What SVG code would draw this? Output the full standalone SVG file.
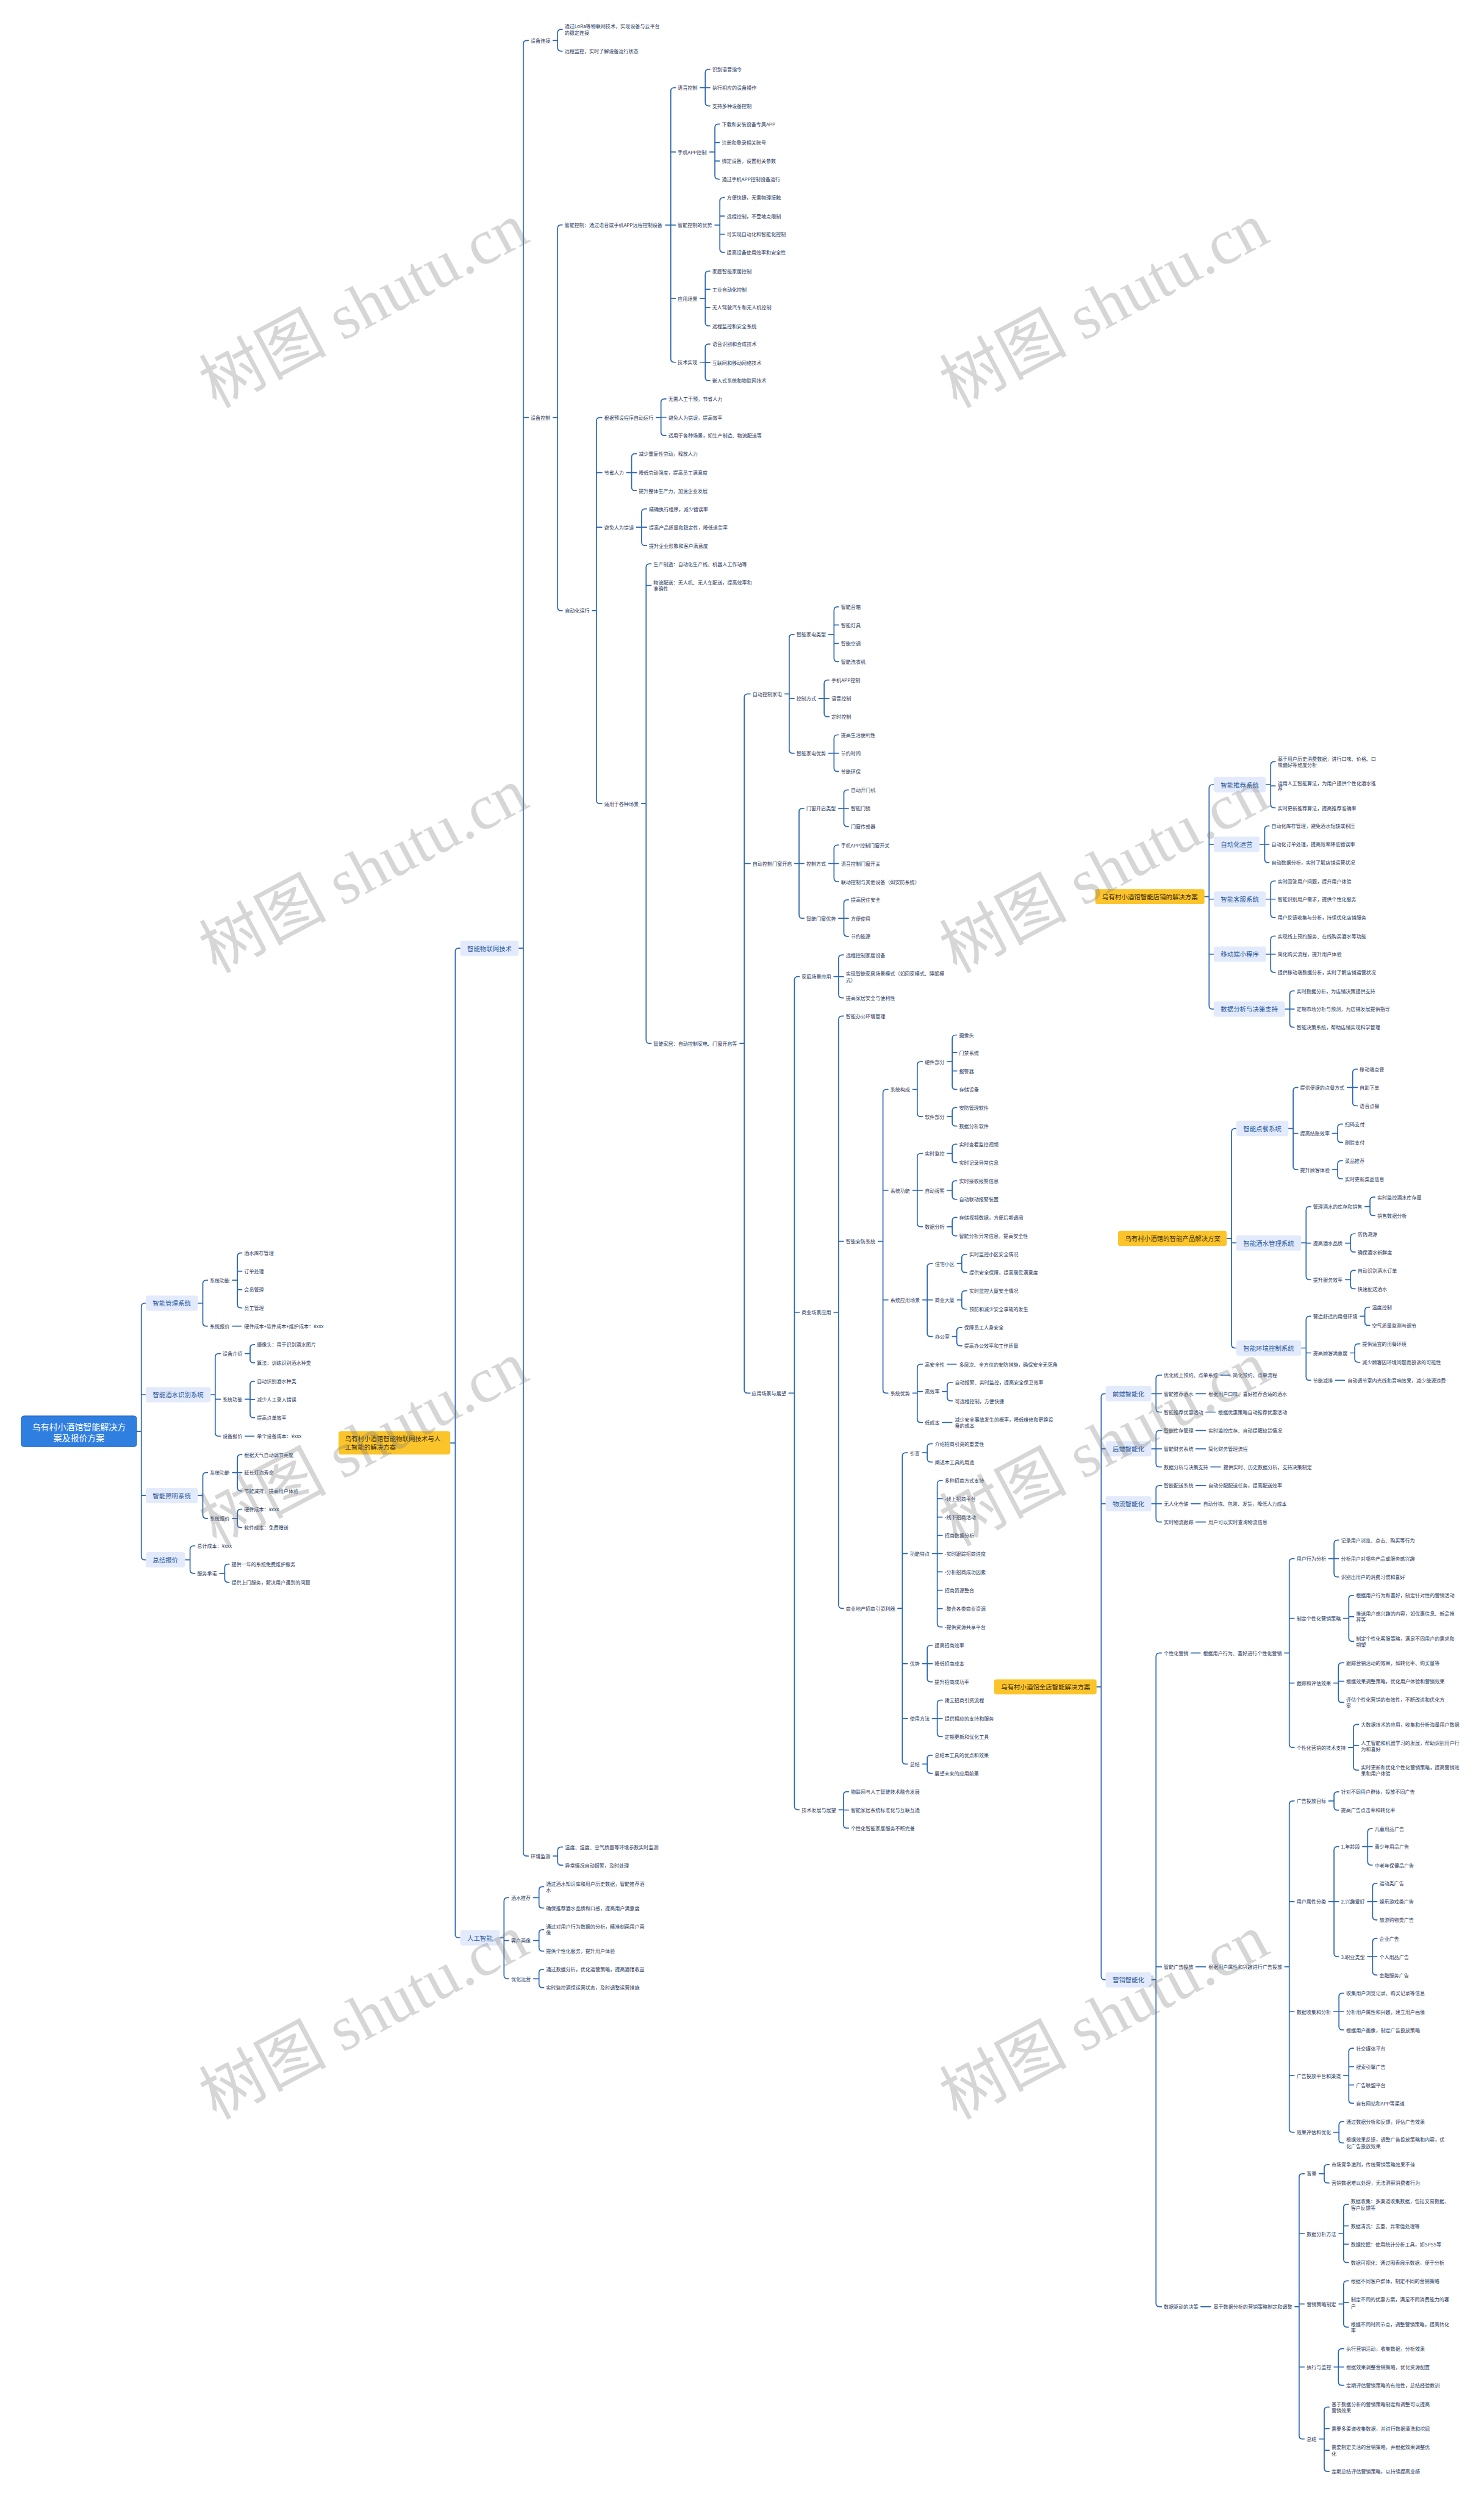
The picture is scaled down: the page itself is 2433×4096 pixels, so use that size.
<svg xmlns="http://www.w3.org/2000/svg" width="2433" height="4096" viewBox="0 0 2433 4096">
<style>
text{font-family:"Noto Sans CJK SC","Noto Sans",sans-serif;dominant-baseline:central}
.t{font-size:8.5px;fill:#26355a}
.b{font-size:11px;fill:#2a5aa0}
.bx{fill:#e2eafb}
.y{fill:#fbc42b}
.yt{font-size:11px;fill:#3a2b08}
.c path{fill:none;stroke:#2d67b1;stroke-width:1.8;stroke-linecap:round}
.w text{font-family:"Liberation Serif","Noto Sans CJK SC",serif;font-size:110px;fill:#7a7a7a;opacity:.3;dominant-baseline:auto}
</style>
<rect width="2433" height="4096" fill="#fff"/>
<g transform="scale(0.95)">
<g id="connectors" class="c">
<path d="M235.7 2469.6H243.9M251.5 2248.4H249.9Q243.9 2248.4 243.9 2254.4V2685.2Q243.9 2691.2 249.9 2691.2H251.5M243.9 2406.3H251.5M243.9 2580.2H251.5"/>
<path d="M341.5 2248.4H350M358.2 2208.8H356Q350 2208.8 350 2214.8V2282Q350 2288 356 2288H358.2"/>
<path d="M401 2208.8H409.7M417.4 2161.8H415.7Q409.7 2161.8 409.7 2167.8V2250.5Q409.7 2256.5 415.7 2256.5H417.4M409.7 2193.3H417.4M409.7 2225.1H417.4"/>
<path d="M401 2288H416.4"/>
<path d="M363.5 2406.3H371.4M380.2 2335.3H377.4Q371.4 2335.3 371.4 2341.3V2471.8Q371.4 2477.8 377.4 2477.8H380.2M371.4 2414.1H380.2"/>
<path d="M423 2335.3H431.6M439.4 2319.8H437.6Q431.6 2319.8 431.6 2325.8V2345.2Q431.6 2351.2 437.6 2351.2H439.4"/>
<path d="M423 2414.1H431.6M439.4 2383.1H437.6Q431.6 2383.1 431.6 2389.1V2439.9Q431.6 2445.9 437.6 2445.9H439.4M431.6 2414.5H439.4"/>
<path d="M423 2477.8H438.4"/>
<path d="M341.5 2580.2H350M358.2 2540.6H356Q350 2540.6 350 2546.6V2613.8Q350 2619.8 356 2619.8H358.2"/>
<path d="M401 2540.6H409.7M417.4 2509.6H415.7Q409.7 2509.6 409.7 2515.6V2566.4Q409.7 2572.4 415.7 2572.4H417.4M409.7 2540.6H417.4"/>
<path d="M401 2619.8H409.7M417.4 2603.9H415.7Q409.7 2603.9 409.7 2609.9V2629.7Q409.7 2635.7 415.7 2635.7H417.4"/>
<path d="M319.5 2691.2H328M336.3 2667.1H334Q328 2667.1 328 2673.1V2708.5Q328 2714.5 334 2714.5H336.3"/>
<path d="M379 2714.5H387.8M395.5 2698.6H393.8Q387.8 2698.6 387.8 2704.6V2724Q387.8 2730 393.8 2730H395.5"/>
<path d="M777 2489.6H785.7M794.3 1636H791.7Q785.7 1636 785.7 1642V3337.3Q785.7 3343.3 791.7 3343.3H794.3"/>
<path d="M895.3 1636H903.1M911.8 69.8H909.1Q903.1 69.8 903.1 75.8V3196.3Q903.1 3202.3 909.1 3202.3H911.8M903.1 720.5H911.8"/>
<path d="M954.5 69.8H962.3M970.4 50.6H968.3Q962.3 50.6 962.3 56.6V82.2Q962.3 88.2 968.3 88.2H970.4"/>
<path d="M954.5 720.5H962.3M970.4 388H968.3Q962.3 388 962.3 394V1047.6Q962.3 1053.6 968.3 1053.6H970.4"/>
<path d="M1148.5 388.2H1157.6M1165.6 151.3H1163.6Q1157.6 151.3 1157.6 157.3V619Q1157.6 625 1163.6 625H1165.6M1157.6 262.3H1165.6M1157.6 388.2H1165.6M1157.6 515H1165.6"/>
<path d="M1208.3 151.3H1217.1M1225.2 119.5H1223.1Q1217.1 119.5 1217.1 125.5V176.7Q1217.1 182.7 1223.1 182.7H1225.2M1217.1 151.3H1225.2"/>
<path d="M1224.9 262.3H1233.7M1241.7 214H1239.7Q1233.7 214 1233.7 220V303Q1233.7 309 1239.7 309H1241.7M1233.7 245.9H1241.7M1233.7 277.7H1241.7"/>
<path d="M1233.8 388.2H1242.3M1250.3 340.9H1248.3Q1242.3 340.9 1242.3 346.9V429.4Q1242.3 435.4 1248.3 435.4H1250.3M1242.3 372.7H1250.3M1242.3 404.1H1250.3"/>
<path d="M1208.3 515H1217.1M1225.2 467.8H1223.1Q1217.1 467.8 1217.1 473.8V556.3Q1217.1 562.3 1223.1 562.3H1225.2M1217.1 499.1H1225.2M1217.1 530.4H1225.2"/>
<path d="M1208.3 625H1217.1M1225.2 593.6H1223.1Q1217.1 593.6 1217.1 599.6V650.8Q1217.1 656.8 1223.1 656.8H1225.2M1217.1 625.5H1225.2"/>
<path d="M1022 1053.6H1029.3M1038.7 720.5H1035.3Q1029.3 720.5 1029.3 726.5V1380.5Q1029.3 1386.5 1035.3 1386.5H1038.7M1029.3 815.4H1038.7M1029.3 909.6H1038.7"/>
<path d="M1132.4 720.5H1140.7M1149.4 688.2H1146.7Q1140.7 688.2 1140.7 694.2V745.4Q1140.7 751.4 1146.7 751.4H1149.4M1140.7 720H1149.4"/>
<path d="M1081.4 815.4H1090M1098.3 782.7H1096Q1090 782.7 1090 788.7V840.5Q1090 846.5 1096 846.5H1098.3M1090 815.4H1098.3"/>
<path d="M1098.4 909.6H1107.3M1116 878.1H1113.3Q1107.3 878.1 1107.3 884.1V935.2Q1107.3 941.2 1113.3 941.2H1116M1107.3 909.6H1116"/>
<path d="M1106.9 1386.5H1115M1123.7 972.8H1121Q1115 972.8 1115 978.8V1794.2Q1115 1800.2 1121 1800.2H1123.7M1115 1010H1123.7"/>
<path d="M1276.9 1800.2H1284.4M1294.7 1197.2H1290.4Q1284.4 1197.2 1284.4 1203.2V2397.5Q1284.4 2403.5 1290.4 2403.5H1294.7M1284.4 1489.8H1294.7"/>
<path d="M1354.4 1197.2H1362M1370.5 1094.7H1368Q1362 1094.7 1362 1100.7V1293.7Q1362 1299.7 1368 1299.7H1370.5M1362 1205.2H1370.5"/>
<path d="M1430.2 1094.7H1439.3M1447.3 1047H1445.3Q1439.3 1047 1439.3 1053V1135.5Q1439.3 1141.5 1445.3 1141.5H1447.3M1439.3 1078.3H1447.3M1439.3 1110.1H1447.3"/>
<path d="M1413.2 1205.2H1422.3M1430.8 1173.3H1428.3Q1422.3 1173.3 1422.3 1179.3V1230.5Q1422.3 1236.5 1428.3 1236.5H1430.8M1422.3 1205.2H1430.8"/>
<path d="M1430.2 1299.7H1439.3M1447.3 1267.9H1445.3Q1439.3 1267.9 1439.3 1273.9V1325Q1439.3 1331 1445.3 1331H1447.3M1439.3 1299.7H1447.3"/>
<path d="M1371.4 1489.8H1379M1387.5 1394.7H1385Q1379 1394.7 1379 1400.7V1578.3Q1379 1584.3 1385 1584.3H1387.5M1379 1489.8H1387.5"/>
<path d="M1447.2 1394.7H1456.3M1464.3 1362.9H1462.3Q1456.3 1362.9 1456.3 1368.9V1420.1Q1456.3 1426.1 1462.3 1426.1H1464.3M1456.3 1394.7H1464.3"/>
<path d="M1430.2 1489.8H1439.3M1447.3 1457.9H1445.3Q1439.3 1457.9 1439.3 1463.9V1515.1Q1439.3 1521.1 1445.3 1521.1H1447.3M1439.3 1489.8H1447.3"/>
<path d="M1447.2 1584.3H1456.3M1464.3 1552.4H1462.3Q1456.3 1552.4 1456.3 1558.4V1609.6Q1456.3 1615.6 1462.3 1615.6H1464.3M1456.3 1584.3H1464.3"/>
<path d="M1361.4 2403.5H1371M1379.4 1684.8H1377Q1371 1684.8 1371 1690.8V3116.4Q1371 3122.4 1377 3122.4H1379.4M1371 2264.2H1379.4"/>
<path d="M1439.2 1684.8H1447.3M1455.8 1647.5H1453.3Q1447.3 1647.5 1447.3 1653.5V1715.6Q1447.3 1721.6 1453.3 1721.6H1455.8M1447.3 1685H1455.8"/>
<path d="M1439.2 2264.2H1447.3M1455.8 1753H1453.3Q1447.3 1753 1447.3 1759V2768.9Q1447.3 2774.9 1453.3 2774.9H1455.8M1447.3 2141.8H1455.8"/>
<path d="M1515.5 2141.8H1523.8M1532.5 1879.6H1529.8Q1523.8 1879.6 1523.8 1885.6V2397.5Q1523.8 2403.5 1529.8 2403.5H1532.5M1523.8 2053.7H1532.5M1523.8 2242.8H1532.5"/>
<path d="M1575.2 1879.6H1583M1592.1 1831.8H1589Q1583 1831.8 1583 1837.8V1920.4Q1583 1926.4 1589 1926.4H1592.1"/>
<path d="M1634.8 1831.8H1643.3M1651.3 1785.8H1649.3Q1643.3 1785.8 1643.3 1791.8V1873.6Q1643.3 1879.6 1649.3 1879.6H1651.3M1643.3 1815.9H1651.3M1643.3 1847.8H1651.3"/>
<path d="M1634.8 1926.4H1643.3M1651.3 1910.9H1649.3Q1643.3 1910.9 1643.3 1916.9V1936.8Q1643.3 1942.8 1649.3 1942.8H1651.3"/>
<path d="M1575.2 2053.7H1583M1592.1 1990H1589Q1583 1990 1583 1996V2110.4Q1583 2116.4 1589 2116.4H1592.1M1583 2053.7H1592.1"/>
<path d="M1634.8 1990H1643.3M1651.3 1974.1H1649.3Q1643.3 1974.1 1643.3 1980.1V2000Q1643.3 2006 1649.3 2006H1651.3"/>
<path d="M1634.8 2053.7H1643.3M1651.3 2037.3H1649.3Q1643.3 2037.3 1643.3 2043.3V2063.2Q1643.3 2069.2 1649.3 2069.2H1651.3"/>
<path d="M1634.8 2116.4H1643.3M1651.3 2100.5H1649.3Q1643.3 2100.5 1643.3 2106.5V2126.3Q1643.3 2132.3 1649.3 2132.3H1651.3"/>
<path d="M1592.2 2242.8H1600.2M1609.3 2180.1H1606.2Q1600.2 2180.1 1600.2 2186.1V2300Q1600.2 2306 1606.2 2306H1609.3M1600.2 2242.8H1609.3"/>
<path d="M1652 2180.1H1659.8M1668.6 2164.2H1665.8Q1659.8 2164.2 1659.8 2170.2V2189.5Q1659.8 2195.5 1665.8 2195.5H1668.6"/>
<path d="M1652 2242.8H1659.8M1668.6 2226.9H1665.8Q1659.8 2226.9 1659.8 2232.9V2252.7Q1659.8 2258.7 1665.8 2258.7H1668.6"/>
<path d="M1643.5 2306H1651.2M1660 2290.5H1657.2Q1651.2 2290.5 1651.2 2296.5V2315.9Q1651.2 2321.9 1657.2 2321.9H1660"/>
<path d="M1575.2 2403.5H1583M1592.1 2353.7H1589Q1583 2353.7 1583 2359.7V2448.2Q1583 2454.2 1589 2454.2H1592.1M1583 2401H1592.1"/>
<path d="M1634.8 2353.7H1650.3"/>
<path d="M1626.3 2401H1634.7M1643.8 2385H1640.7Q1634.7 2385 1634.7 2391V2410.9Q1634.7 2416.9 1640.7 2416.9H1643.8"/>
<path d="M1626.3 2454.2H1642.8"/>
<path d="M1549.5 2774.9H1557.2M1566.3 2506.5H1563.2Q1557.2 2506.5 1557.2 2512.5V3037.5Q1557.2 3043.5 1563.2 3043.5H1566.3M1557.2 2680.3H1566.3M1557.2 2870.4H1566.3M1557.2 2965H1566.3"/>
<path d="M1592 2506.5H1600.2M1609.3 2491H1606.2Q1600.2 2491 1600.2 2497V2516.4Q1600.2 2522.4 1606.2 2522.4H1609.3"/>
<path d="M1609 2680.3H1617.5M1626.2 2554.2H1623.5Q1617.5 2554.2 1617.5 2560.2V2801Q1617.5 2807 1623.5 2807H1626.2M1617.5 2585.7H1626.2M1617.5 2617.4H1626.2M1617.5 2649.1H1626.2M1617.5 2680.3H1626.2M1617.5 2712H1626.2M1617.5 2743.7H1626.2M1617.5 2775.3H1626.2"/>
<path d="M1592 2870.4H1600.2M1609 2838.7H1606.2Q1600.2 2838.7 1600.2 2844.7V2895.6Q1600.2 2901.6 1606.2 2901.6H1609M1600.2 2870.4H1609"/>
<path d="M1609 2965H1617.5M1626.2 2933.3H1623.5Q1617.5 2933.3 1617.5 2939.3V2990.2Q1617.5 2996.2 1623.5 2996.2H1626.2M1617.5 2965H1626.2"/>
<path d="M1592 3043.5H1600.2M1609 3028.3H1606.2Q1600.2 3028.3 1600.2 3034.3V3053.5Q1600.2 3059.5 1606.2 3059.5H1609"/>
<path d="M1447.6 3122.4H1455.6M1464.4 3091.2H1461.6Q1455.6 3091.2 1455.6 3097.2V3148.1Q1455.6 3154.1 1461.6 3154.1H1464.4M1455.6 3122.9H1464.4"/>
<path d="M954.6 3202.3H962.4M971.1 3186.7H968.4Q962.4 3186.7 962.4 3192.7V3212Q962.4 3218 968.4 3218H971.1"/>
<path d="M862.3 3343.3H869.8M878 3274H875.8Q869.8 3274 869.8 3280V3408Q869.8 3414 875.8 3414H878M869.8 3348H878"/>
<path d="M920.7 3274H930.2M938.4 3255.2H936.2Q930.2 3255.2 930.2 3261.2V3286Q930.2 3292 936.2 3292H938.4"/>
<path d="M920.7 3348H930.2M938.4 3329.3H936.2Q930.2 3329.3 930.2 3335.3V3360.3Q930.2 3366.3 936.2 3366.3H938.4"/>
<path d="M920.7 3414H930.2M938.4 3397.7H936.2Q930.2 3397.7 930.2 3403.7V3423.3Q930.2 3429.3 936.2 3429.3H938.4"/>
<path d="M2078.6 1547H2086.6M2094.6 1353.7H2092.6Q2086.6 1353.7 2086.6 1359.7V1735Q2086.6 1741 2092.6 1741H2094.6M2086.6 1456.7H2094.6M2086.6 1551.3H2094.6M2086.6 1646.3H2094.6"/>
<path d="M2184.6 1353.7H2192.9M2200.9 1314H2198.9Q2192.9 1314 2192.9 1320V1387.7Q2192.9 1393.7 2198.9 1393.7H2200.9M2192.9 1356H2200.9"/>
<path d="M2173.6 1456.7H2182.6M2190.2 1425H2188.6Q2182.6 1425 2182.6 1431V1482.3Q2182.6 1488.3 2188.6 1488.3H2190.2M2182.6 1456.7H2190.2"/>
<path d="M2184.6 1551.3H2192.9M2200.9 1520H2198.9Q2192.9 1520 2192.9 1526V1577Q2192.9 1583 2198.9 1583H2200.9M2192.9 1551.3H2200.9"/>
<path d="M2184.6 1646.3H2192.9M2200.9 1615H2198.9Q2192.9 1615 2192.9 1621V1671.7Q2192.9 1677.7 2198.9 1677.7H2200.9M2192.9 1646.3H2200.9"/>
<path d="M2217.6 1741H2225.9M2233.5 1709.7H2231.9Q2225.9 1709.7 2225.9 1715.7V1766.3Q2225.9 1772.3 2231.9 1772.3H2233.5M2225.9 1741H2233.5"/>
<path d="M2117 2136.7H2125.4M2133.5 1946.9H2131.4Q2125.4 1946.9 2125.4 1952.9V2319.8Q2125.4 2325.8 2131.4 2325.8H2133.5M2125.4 2144.4H2133.5"/>
<path d="M2223.5 1946.9H2231.7M2239.8 1876.1H2237.7Q2231.7 1876.1 2231.7 1882.1V2012.1Q2231.7 2018.1 2237.7 2018.1H2239.8M2231.7 1955.3H2239.8"/>
<path d="M2325 1876.1H2334.4M2342.4 1844.7H2340.4Q2334.4 1844.7 2334.4 1850.7V1901.9Q2334.4 1907.9 2340.4 1907.9H2342.4M2334.4 1876.1H2342.4"/>
<path d="M2299.5 1955.3H2308.5M2317 1939.3H2314.5Q2308.5 1939.3 2308.5 1945.3V1965Q2308.5 1971 2314.5 1971H2317"/>
<path d="M2299.5 2018.1H2308.5M2317 2002.4H2314.5Q2308.5 2002.4 2308.5 2008.4V2027.8Q2308.5 2033.8 2314.5 2033.8H2317"/>
<path d="M2245.5 2144.4H2254M2262.1 2081.6H2260Q2254 2081.6 2254 2087.6V2201.9Q2254 2207.9 2260 2207.9H2262.1M2254 2144.8H2262.1"/>
<path d="M2355.8 2081.6H2364.3M2372.8 2065.5H2370.3Q2364.3 2065.5 2364.3 2071.5V2091.3Q2364.3 2097.3 2370.3 2097.3H2372.8"/>
<path d="M2321.8 2144.8H2330.8M2338.9 2128.7H2336.8Q2330.8 2128.7 2330.8 2134.7V2154.1Q2330.8 2160.1 2336.8 2160.1H2338.9"/>
<path d="M2321.8 2207.9H2330.8M2338.9 2191.8H2336.8Q2330.8 2191.8 2330.8 2197.8V2217.6Q2330.8 2223.6 2336.8 2223.6H2338.9"/>
<path d="M2245.5 2325.8H2254M2262.1 2271H2260Q2254 2271 2254 2277V2375.4Q2254 2381.4 2260 2381.4H2262.1M2254 2334.2H2262.1"/>
<path d="M2347.3 2271H2355.4M2363.9 2255.4H2361.4Q2355.4 2255.4 2355.4 2261.4V2280.7Q2355.4 2286.7 2361.4 2286.7H2363.9"/>
<path d="M2330.3 2334.2H2338M2346.9 2318.5H2344Q2338 2318.5 2338 2324.5V2344.3Q2338 2350.3 2344 2350.3H2346.9"/>
<path d="M2304.8 2381.4H2320.4"/>
<path d="M1892.4 2910.3H1900.4M1908 2404.6H1906.4Q1900.4 2404.6 1900.4 2410.6V3409.7Q1900.4 3415.7 1906.4 3415.7H1908M1900.4 2499.7H1908M1900.4 2594.4H1908"/>
<path d="M1987 2404.6H1995M2004.5 2372.5H2001Q1995 2372.5 1995 2378.5V2430.3Q1995 2436.3 2001 2436.3H2004.5M1995 2404.6H2004.5M2106.5 2372.5H2122.7M2064 2404.6H2080.3M2081 2436.3H2097.2"/>
<path d="M1987 2499.7H1995M2004.5 2468H2001Q1995 2468 1995 2474V2525Q1995 2531 2001 2531H2004.5M1995 2499.7H2004.5M2064 2468H2080.3M2064 2499.7H2080.3M2089.5 2531H2106.2"/>
<path d="M1987 2594.4H1995M2004.5 2563.1H2001Q1995 2563.1 1995 2569.1V2620Q1995 2626 2001 2626H2004.5M1995 2594.4H2004.5M2064 2563.1H2080.3M2055.5 2594.4H2071.3M2064 2626H2080.3"/>
<path d="M1987 3415.7H1995M2004.5 2852H2001Q1995 2852 1995 2858V3973.8Q1995 3979.8 2001 3979.8H2004.5M1995 3393.3H2004.5M2055.5 2852H2071.3M2064 3393.3H2080.3M2072.5 3979.8H2089.2"/>
<path d="M2216.8 2852H2225M2233.5 2689H2231Q2225 2689 2225 2695V3008.9Q2225 3014.9 2231 3014.9H2233.5M2225 2792.1H2233.5M2225 2903.8H2233.5"/>
<path d="M2293.2 2689H2302.2M2310.3 2657.3H2308.2Q2302.2 2657.3 2302.2 2663.3V2714.7Q2302.2 2720.7 2308.2 2720.7H2310.3M2302.2 2689H2310.3"/>
<path d="M2318.7 2792.1H2327.7M2336.2 2752.4H2333.7Q2327.7 2752.4 2327.7 2758.4V2825.9Q2327.7 2831.9 2333.7 2831.9H2336.2M2327.7 2789.3H2336.2"/>
<path d="M2301.7 2903.8H2309.8M2319.2 2868.9H2315.8Q2309.8 2868.9 2309.8 2874.9V2931.3Q2309.8 2937.3 2315.8 2937.3H2319.2M2309.8 2900.6H2319.2"/>
<path d="M2327.2 3014.9H2335.7M2344.7 2975.2H2341.7Q2335.7 2975.2 2335.7 2981.2V3048Q2335.7 3054 2341.7 3054H2344.7M2335.7 3011.8H2344.7"/>
<path d="M2217.3 3393.3H2225M2233.5 3107.2H2231Q2225 3107.2 2225 3113.2V3672.9Q2225 3678.9 2231 3678.9H2233.5M2225 3280.9H2233.5M2225 3470.8H2233.5M2225 3581.1H2233.5"/>
<path d="M2293.2 3107.2H2302.2M2310.3 3091.5H2308.2Q2302.2 3091.5 2302.2 3097.5V3117Q2302.2 3123 2308.2 3123H2310.3"/>
<path d="M2293.2 3280.9H2302.2M2310.3 3186H2308.2Q2302.2 3186 2302.2 3192V3369.9Q2302.2 3375.9 2308.2 3375.9H2310.3M2302.2 3280.9H2310.3"/>
<path d="M2351.5 3186H2360.3M2368.3 3154.9H2366.3Q2360.3 3154.9 2360.3 3160.9V3211.9Q2360.3 3217.9 2366.3 3217.9H2368.3M2360.3 3186H2368.3"/>
<path d="M2360 3280.9H2368.8M2376.4 3249.4H2374.8Q2368.8 3249.4 2368.8 3255.4V3306.4Q2368.8 3312.4 2374.8 3312.4H2376.4M2368.8 3280.9H2376.4"/>
<path d="M2360 3375.9H2368.8M2376.4 3344.4H2374.8Q2368.8 3344.4 2368.8 3350.4V3401.4Q2368.8 3407.4 2374.8 3407.4H2376.4M2368.8 3375.9H2376.4"/>
<path d="M2301.7 3470.8H2310.7M2319.2 3438.9H2316.7Q2310.7 3438.9 2310.7 3444.9V3496.3Q2310.7 3502.3 2316.7 3502.3H2319.2M2310.7 3470.8H2319.2"/>
<path d="M2318.7 3581.1H2327.7M2336.2 3533.8H2333.7Q2327.7 3533.8 2327.7 3539.8V3622.8Q2327.7 3628.8 2333.7 3628.8H2336.2M2327.7 3565.7H2336.2M2327.7 3597.3H2336.2"/>
<path d="M2301.7 3678.9H2310.7M2319.2 3660.3H2316.7Q2310.7 3660.3 2310.7 3666.3V3691.2Q2310.7 3697.2 2316.7 3697.2H2319.2"/>
<path d="M2234.7 3979.8H2242M2250.9 3750.5H2248Q2242 3750.5 2242 3756.5V4202Q2242 4208 2248 4208H2250.9M2242 3853.7H2250.9M2242 3975.1H2250.9M2242 4083.8H2250.9"/>
<path d="M2276.6 3750.5H2285.3M2293.8 3734.7H2291.3Q2285.3 3734.7 2285.3 3740.7V3760.3Q2285.3 3766.3 2291.3 3766.3H2293.8"/>
<path d="M2310.6 3853.7H2318.8M2327.3 3803.1H2324.8Q2318.8 3803.1 2318.8 3809.1V3897.5Q2318.8 3903.5 2324.8 3903.5H2327.3M2318.8 3840.3H2327.3M2318.8 3871.9H2327.3"/>
<path d="M2310.6 3975.1H2318.8M2327.3 3935.2H2324.8Q2318.8 3935.2 2318.8 3941.2V4009.1Q2318.8 4015.1 2324.8 4015.1H2327.3M2318.8 3972.8H2327.3"/>
<path d="M2302.1 4083.8H2309.8M2319.2 4052.2H2315.8Q2309.8 4052.2 2309.8 4058.2V4109.5Q2309.8 4115.5 2315.8 4115.5H2319.2M2309.8 4083.8H2319.2"/>
<path d="M2276.6 4208H2285.3M2293.8 4153.1H2291.3Q2285.3 4153.1 2285.3 4159.1V4258.1Q2285.3 4264.1 2291.3 4264.1H2293.8M2285.3 4190.2H2293.8M2285.3 4227.4H2293.8"/>
</g>

<g id="root"><rect x="36.7" y="2443" width="199" height="53" rx="5" fill="#2f7fe0" stroke="#1f66c2" stroke-width="1.2"/><text x="136.2" y="2460.6" text-anchor="middle" font-size="14.7" fill="#fff">乌有村小酒馆智能解决方</text><text x="136.2" y="2479.8" text-anchor="middle" font-size="14.7" fill="#fff">案及报价方案</text></g>

<g id="box-mgmt"><rect class="bx" x="251.5" y="2235.2" width="90" height="26.5" rx="4"/><text class="b" x="263.5" y="2248.4">智能管理系统</text></g>
<g id="box-wine"><rect class="bx" x="251.5" y="2393.1" width="112" height="26.5" rx="4"/><text class="b" x="263.5" y="2406.3">智能酒水识别系统</text></g>
<g id="box-light"><rect class="bx" x="251.5" y="2567" width="90" height="26.5" rx="4"/><text class="b" x="263.5" y="2580.2">智能照明系统</text></g>
<g id="box-sum"><rect class="bx" x="251.5" y="2678" width="68" height="26.5" rx="4"/><text class="b" x="263.5" y="2691.2">总结报价</text></g>

<g id="l1"><text class="t" x="362.2" y="2208.8">系统功能</text></g>
<g id="l2"><text class="t" x="421.4" y="2161.8">酒水库存管理</text></g>
<g id="l3"><text class="t" x="421.4" y="2193.3">订单处理</text></g>
<g id="l4"><text class="t" x="421.4" y="2225.1">会员管理</text></g>
<g id="l5"><text class="t" x="421.4" y="2256.5">员工管理</text></g>
<g id="l6"><text class="t" x="362.2" y="2288">系统报价</text></g>
<g id="l7"><text class="t" x="421.4" y="2288">硬件成本+软件成本+维护成本：¥xxx</text></g>
<g id="l8"><text class="t" x="384.2" y="2335.3">设备介绍</text></g>
<g id="l9"><text class="t" x="443.4" y="2319.8">摄像头：用于识别酒水图片</text></g>
<g id="l10"><text class="t" x="443.4" y="2351.2">算法：训练识别酒水种类</text></g>
<g id="l11"><text class="t" x="384.2" y="2414.1">系统功能</text></g>
<g id="l12"><text class="t" x="443.4" y="2383.1">自动识别酒水种类</text></g>
<g id="l13"><text class="t" x="443.4" y="2414.5">减少人工录入错误</text></g>
<g id="l14"><text class="t" x="443.4" y="2445.9">提高点单效率</text></g>
<g id="l15"><text class="t" x="384.2" y="2477.8">设备报价</text></g>
<g id="l16"><text class="t" x="443.4" y="2477.8">单个设备成本：¥xxx</text></g>
<g id="l17"><text class="t" x="362.2" y="2540.6">系统功能</text></g>
<g id="l18"><text class="t" x="421.4" y="2509.6">根据天气自动调节亮度</text></g>
<g id="l19"><text class="t" x="421.4" y="2540.6">延长灯泡寿命</text></g>
<g id="l20"><text class="t" x="421.4" y="2572.4">节能减排，提高用户体验</text></g>
<g id="l21"><text class="t" x="362.2" y="2619.8">系统报价</text></g>
<g id="l22"><text class="t" x="421.4" y="2603.9">硬件成本：¥xxx</text></g>
<g id="l23"><text class="t" x="421.4" y="2635.7">软件成本：免费赠送</text></g>
<g id="l24"><text class="t" x="340.3" y="2667.1">总计成本：¥xxx</text></g>
<g id="l25"><text class="t" x="340.3" y="2714.5">服务承诺</text></g>
<g id="l26"><text class="t" x="399.5" y="2698.6">提供一年的系统免费维护服务</text></g>
<g id="l27"><text class="t" x="399.5" y="2730">提供上门服务，解决用户遇到的问题</text></g>

<g id="yellow-iot"><rect class="y" x="584.2" y="2469.6" width="192.8" height="40" rx="4"/><text class="yt" x="595.4" y="2481.8">乌有村小酒馆智能物联网技术与人</text><text class="yt" x="595.4" y="2496.5">工智能的解决方案</text></g>
<g id="box-iot"><rect class="bx" x="794.3" y="1622.8" width="101" height="26.5" rx="4"/><text class="b" x="806.3" y="1636">智能物联网技术</text></g>
<g id="box-ai"><rect class="bx" x="794.3" y="3330.1" width="68" height="26.5" rx="4"/><text class="b" x="806.3" y="3343.3">人工智能</text></g>

<g id="m1"><text class="t" x="915.8" y="69.8">设备连接</text></g>
<g id="m2"><text class="t" x="974.4" y="44.9">通过LoRa等物联网技术，实现设备与云平台</text><text class="t" x="974.4" y="56.3">的稳定连接</text></g>
<g id="m3"><text class="t" x="974.4" y="88.2">远程监控，实时了解设备运行状态</text></g>
<g id="m4"><text class="t" x="915.8" y="720.5">设备控制</text></g>
<g id="m5"><text class="t" x="974.4" y="388">智能控制：通过语音或手机APP远程控制设备</text></g>
<g id="m6"><text class="t" x="1169.6" y="151.3">语音控制</text></g>
<g id="m7"><text class="t" x="1229.2" y="119.5">识别语音指令</text></g>
<g id="m8"><text class="t" x="1229.2" y="151.3">执行相应的设备操作</text></g>
<g id="m9"><text class="t" x="1229.2" y="182.7">支持多种设备控制</text></g>
<g id="m10"><text class="t" x="1169.6" y="262.3">手机APP控制</text></g>
<g id="m11"><text class="t" x="1245.7" y="214">下载和安装设备专属APP</text></g>
<g id="m12"><text class="t" x="1245.7" y="245.9">注册和登录相关账号</text></g>
<g id="m13"><text class="t" x="1245.7" y="277.7">绑定设备，设置相关参数</text></g>
<g id="m14"><text class="t" x="1245.7" y="309">通过手机APP控制设备运行</text></g>
<g id="m15"><text class="t" x="1169.6" y="388.2">智能控制的优势</text></g>
<g id="m16"><text class="t" x="1254.3" y="340.9">方便快捷，无需物理接触</text></g>
<g id="m17"><text class="t" x="1254.3" y="372.7">远程控制，不受地点限制</text></g>
<g id="m18"><text class="t" x="1254.3" y="404.1">可实现自动化和智能化控制</text></g>
<g id="m19"><text class="t" x="1254.3" y="435.4">提高设备使用效率和安全性</text></g>
<g id="m20"><text class="t" x="1169.6" y="515">应用场景</text></g>
<g id="m21"><text class="t" x="1229.2" y="467.8">家庭智能家居控制</text></g>
<g id="m22"><text class="t" x="1229.2" y="499.1">工业自动化控制</text></g>
<g id="m23"><text class="t" x="1229.2" y="530.4">无人驾驶汽车和无人机控制</text></g>
<g id="m24"><text class="t" x="1229.2" y="562.3">远程监控和安全系统</text></g>
<g id="m25"><text class="t" x="1169.6" y="625">技术实现</text></g>
<g id="m26"><text class="t" x="1229.2" y="593.6">语音识别和合成技术</text></g>
<g id="m27"><text class="t" x="1229.2" y="625.5">互联网和移动网络技术</text></g>
<g id="m28"><text class="t" x="1229.2" y="656.8">嵌入式系统和物联网技术</text></g>
<g id="m29"><text class="t" x="975" y="1053.6">自动化运行</text></g>
<g id="m30"><text class="t" x="1042.7" y="720.5">根据预设程序自动运行</text></g>
<g id="m31"><text class="t" x="1153.4" y="688.2">无需人工干预，节省人力</text></g>
<g id="m32"><text class="t" x="1153.4" y="720">避免人为错误，提高效率</text></g>
<g id="m33"><text class="t" x="1153.4" y="751.4">适用于各种场景，如生产制造、物流配送等</text></g>
<g id="m34"><text class="t" x="1042.7" y="815.4">节省人力</text></g>
<g id="m35"><text class="t" x="1102.3" y="782.7">减少重复性劳动，释放人力</text></g>
<g id="m36"><text class="t" x="1102.3" y="815.4">降低劳动强度，提高员工满意度</text></g>
<g id="m37"><text class="t" x="1102.3" y="846.5">提升整体生产力，加速企业发展</text></g>
<g id="m38"><text class="t" x="1042.7" y="909.6">避免人为错误</text></g>
<g id="m39"><text class="t" x="1120" y="878.1">精确执行程序，减少错误率</text></g>
<g id="m40"><text class="t" x="1120" y="909.6">提高产品质量和稳定性，降低退货率</text></g>
<g id="m41"><text class="t" x="1120" y="941.2">提升企业形象和客户满意度</text></g>
<g id="m42"><text class="t" x="1042.7" y="1386.5">适用于各种场景</text></g>
<g id="m43"><text class="t" x="1127.7" y="972.8">生产制造：自动化生产线、机器人工作站等</text></g>
<g id="m44"><text class="t" x="1127.7" y="1004.7">物流配送：无人机、无人车配送，提高效率和</text><text class="t" x="1127.7" y="1015.3">准确性</text></g>
<g id="m45"><text class="t" x="1127.7" y="1800.2">智能家居：自动控制家电、门窗开启等</text></g>
<g id="m46"><text class="t" x="1298.7" y="1197.2">自动控制家电</text></g>
<g id="m47"><text class="t" x="1374.5" y="1094.7">智能家电类型</text></g>
<g id="m48"><text class="t" x="1451.3" y="1047">智能音箱</text></g>
<g id="m49"><text class="t" x="1451.3" y="1078.3">智能灯具</text></g>
<g id="m50"><text class="t" x="1451.3" y="1110.1">智能空调</text></g>
<g id="m51"><text class="t" x="1451.3" y="1141.5">智能洗衣机</text></g>
<g id="m52"><text class="t" x="1374.5" y="1205.2">控制方式</text></g>
<g id="m53"><text class="t" x="1434.8" y="1173.3">手机APP控制</text></g>
<g id="m54"><text class="t" x="1434.8" y="1205.2">语音控制</text></g>
<g id="m55"><text class="t" x="1434.8" y="1236.5">定时控制</text></g>
<g id="m56"><text class="t" x="1374.5" y="1299.7">智能家电优势</text></g>
<g id="m57"><text class="t" x="1451.3" y="1267.9">提高生活便利性</text></g>
<g id="m58"><text class="t" x="1451.3" y="1299.7">节约时间</text></g>
<g id="m59"><text class="t" x="1451.3" y="1331">节能环保</text></g>
<g id="m60"><text class="t" x="1298.7" y="1489.8">自动控制门窗开启</text></g>
<g id="m61"><text class="t" x="1391.5" y="1394.7">门窗开启类型</text></g>
<g id="m62"><text class="t" x="1468.3" y="1362.9">自动开门机</text></g>
<g id="m63"><text class="t" x="1468.3" y="1394.7">智能门锁</text></g>
<g id="m64"><text class="t" x="1468.3" y="1426.1">门窗传感器</text></g>
<g id="m65"><text class="t" x="1391.5" y="1489.8">控制方式</text></g>
<g id="m66"><text class="t" x="1451.3" y="1457.9">手机APP控制门窗开关</text></g>
<g id="m67"><text class="t" x="1451.3" y="1489.8">语音控制门窗开关</text></g>
<g id="m68"><text class="t" x="1451.3" y="1521.1">联动控制与其他设备（如安防系统）</text></g>
<g id="m69"><text class="t" x="1391.5" y="1584.3">智能门窗优势</text></g>
<g id="m70"><text class="t" x="1468.3" y="1552.4">提高居住安全</text></g>
<g id="m71"><text class="t" x="1468.3" y="1584.3">方便使用</text></g>
<g id="m72"><text class="t" x="1468.3" y="1615.6">节约能源</text></g>
<g id="m73"><text class="t" x="1297.2" y="2403.5">应用场景与展望</text></g>
<g id="m74"><text class="t" x="1383.4" y="1684.8">家庭场景应用</text></g>
<g id="m75"><text class="t" x="1459.8" y="1647.5">远程控制家居设备</text></g>
<g id="m76"><text class="t" x="1459.8" y="1679.9">实现智能家居场景模式（如回家模式、睡眠模</text><text class="t" x="1459.8" y="1690.8">式）</text></g>
<g id="m77"><text class="t" x="1459.8" y="1721.6">提高家居安全与便利性</text></g>
<g id="m78"><text class="t" x="1383.4" y="2264.2">商业场景应用</text></g>
<g id="m79"><text class="t" x="1459.8" y="1753">智能办公环境管理</text></g>
<g id="m80"><text class="t" x="1459.8" y="2141.8">智能安防系统</text></g>
<g id="m81"><text class="t" x="1536.5" y="1879.6">系统构成</text></g>
<g id="m82"><text class="t" x="1596.1" y="1831.8">硬件部分</text></g>
<g id="m83"><text class="t" x="1655.3" y="1785.8">摄像头</text></g>
<g id="m84"><text class="t" x="1655.3" y="1815.9">门禁系统</text></g>
<g id="m85"><text class="t" x="1655.3" y="1847.8">报警器</text></g>
<g id="m86"><text class="t" x="1655.3" y="1879.6">存储设备</text></g>
<g id="m87"><text class="t" x="1596.1" y="1926.4">软件部分</text></g>
<g id="m88"><text class="t" x="1655.3" y="1910.9">安防管理软件</text></g>
<g id="m89"><text class="t" x="1655.3" y="1942.8">数据分析软件</text></g>
<g id="m90"><text class="t" x="1536.5" y="2053.7">系统功能</text></g>
<g id="m91"><text class="t" x="1596.1" y="1990">实时监控</text></g>
<g id="m92"><text class="t" x="1655.3" y="1974.1">实时查看监控视频</text></g>
<g id="m93"><text class="t" x="1655.3" y="2006">实时记录异常信息</text></g>
<g id="m94"><text class="t" x="1596.1" y="2053.7">自动报警</text></g>
<g id="m95"><text class="t" x="1655.3" y="2037.3">实时接收报警信息</text></g>
<g id="m96"><text class="t" x="1655.3" y="2069.2">自动联动报警装置</text></g>
<g id="m97"><text class="t" x="1596.1" y="2116.4">数据分析</text></g>
<g id="m98"><text class="t" x="1655.3" y="2100.5">存储视频数据，方便后期调阅</text></g>
<g id="m99"><text class="t" x="1655.3" y="2132.3">智能分析异常信息，提高安全性</text></g>
<g id="m100"><text class="t" x="1536.5" y="2242.8">系统应用场景</text></g>
<g id="m101"><text class="t" x="1613.3" y="2180.1">住宅小区</text></g>
<g id="m102"><text class="t" x="1672.6" y="2164.2">实时监控小区安全情况</text></g>
<g id="m103"><text class="t" x="1672.6" y="2195.5">提供安全保障，提高居民满意度</text></g>
<g id="m104"><text class="t" x="1613.3" y="2242.8">商业大厦</text></g>
<g id="m105"><text class="t" x="1672.6" y="2226.9">实时监控大厦安全情况</text></g>
<g id="m106"><text class="t" x="1672.6" y="2258.7">预防和减少安全事故的发生</text></g>
<g id="m107"><text class="t" x="1613.3" y="2306">办公室</text></g>
<g id="m108"><text class="t" x="1664" y="2290.5">保障员工人身安全</text></g>
<g id="m109"><text class="t" x="1664" y="2321.9">提高办公效率和工作质量</text></g>
<g id="m110"><text class="t" x="1536.5" y="2403.5">系统优势</text></g>
<g id="m111"><text class="t" x="1596.1" y="2353.7">高安全性</text></g>
<g id="m112"><text class="t" x="1655.3" y="2353.7">多层次、全方位的安防措施，确保安全无死角</text></g>
<g id="m113"><text class="t" x="1596.1" y="2401">高效率</text></g>
<g id="m114"><text class="t" x="1647.8" y="2385">自动报警、实时监控，提高安全保卫效率</text></g>
<g id="m115"><text class="t" x="1647.8" y="2416.9">可远程控制，方便快捷</text></g>
<g id="m116"><text class="t" x="1596.1" y="2454.2">低成本</text></g>
<g id="m117"><text class="t" x="1647.8" y="2448.8">减少安全事故发生的概率，降低维修和更换设</text><text class="t" x="1647.8" y="2459.7">备的成本</text></g>
<g id="m118"><text class="t" x="1459.8" y="2774.9">商业地产招商引资利器</text></g>
<g id="m119"><text class="t" x="1570.3" y="2506.5">引言</text></g>
<g id="m120"><text class="t" x="1613.3" y="2491">介绍招商引资的重要性</text></g>
<g id="m121"><text class="t" x="1613.3" y="2522.4">阐述本工具的用途</text></g>
<g id="m122"><text class="t" x="1570.3" y="2680.3">功能特点</text></g>
<g id="m123"><text class="t" x="1630.2" y="2554.2">多种招商方式支持</text></g>
<g id="m124"><text class="t" x="1630.2" y="2585.7">-线上招商平台</text></g>
<g id="m125"><text class="t" x="1630.2" y="2617.4">-线下招商活动</text></g>
<g id="m126"><text class="t" x="1630.2" y="2649.1">招商数据分析</text></g>
<g id="m127"><text class="t" x="1630.2" y="2680.3">-实时跟踪招商进度</text></g>
<g id="m128"><text class="t" x="1630.2" y="2712">-分析招商成功因素</text></g>
<g id="m129"><text class="t" x="1630.2" y="2743.7">招商资源整合</text></g>
<g id="m130"><text class="t" x="1630.2" y="2775.3">-整合各类商业资源</text></g>
<g id="m131"><text class="t" x="1630.2" y="2807">-提供资源共享平台</text></g>
<g id="m132"><text class="t" x="1570.3" y="2870.4">优势</text></g>
<g id="m133"><text class="t" x="1613" y="2838.7">提高招商效率</text></g>
<g id="m134"><text class="t" x="1613" y="2870.4">降低招商成本</text></g>
<g id="m135"><text class="t" x="1613" y="2901.6">提升招商成功率</text></g>
<g id="m136"><text class="t" x="1570.3" y="2965">使用方法</text></g>
<g id="m137"><text class="t" x="1630.2" y="2933.3">建立招商引资流程</text></g>
<g id="m138"><text class="t" x="1630.2" y="2965">提供相应的支持和服务</text></g>
<g id="m139"><text class="t" x="1630.2" y="2996.2">定期更新和优化工具</text></g>
<g id="m140"><text class="t" x="1570.3" y="3043.5">总结</text></g>
<g id="m141"><text class="t" x="1613" y="3028.3">总结本工具的优点和效果</text></g>
<g id="m142"><text class="t" x="1613" y="3059.5">展望未来的应用前景</text></g>
<g id="m143"><text class="t" x="1383.4" y="3122.4">技术发展与展望</text></g>
<g id="m144"><text class="t" x="1468.4" y="3091.2">物联网与人工智能技术融合发展</text></g>
<g id="m145"><text class="t" x="1468.4" y="3122.9">智能家居系统标准化与互联互通</text></g>
<g id="m146"><text class="t" x="1468.4" y="3154.1">个性化智能家居服务不断完善</text></g>
<g id="m147"><text class="t" x="915.9" y="3202.3">环境监测</text></g>
<g id="m148"><text class="t" x="975.1" y="3186.7">温度、湿度、空气质量等环境参数实时监测</text></g>
<g id="m149"><text class="t" x="975.1" y="3218">异常情况自动报警，及时处理</text></g>
<g id="m150"><text class="t" x="882" y="3274">酒水推荐</text></g>
<g id="m151"><text class="t" x="942.4" y="3249.7">通过酒水知识库和用户历史数据，智能推荐酒</text><text class="t" x="942.4" y="3260.7">水</text></g>
<g id="m152"><text class="t" x="942.4" y="3292">确保推荐酒水品质和口感，提高用户满意度</text></g>
<g id="m153"><text class="t" x="882" y="3348">客户画像</text></g>
<g id="m154"><text class="t" x="942.4" y="3324">通过对用户行为数据的分析，精准刻画用户画</text><text class="t" x="942.4" y="3334.7">像</text></g>
<g id="m155"><text class="t" x="942.4" y="3366.3">提供个性化服务，提升用户体验</text></g>
<g id="m156"><text class="t" x="882" y="3414">优化运营</text></g>
<g id="m157"><text class="t" x="942.4" y="3397.7">通过数据分析，优化运营策略，提高酒馆收益</text></g>
<g id="m158"><text class="t" x="942.4" y="3429.3">实时监控酒馆运营状态，及时调整运营措施</text></g>

<g id="yellow-store"><rect class="y" x="1890.2" y="1534" width="188.4" height="26" rx="4"/><text class="yt" x="1902.2" y="1547">乌有村小酒馆智能店铺的解决方案</text></g>
<g id="box-rec"><rect class="bx" x="2094.6" y="1340.5" width="90" height="26.5" rx="4"/><text class="b" x="2106.6" y="1353.7">智能推荐系统</text></g>
<g id="box-auto"><rect class="bx" x="2094.6" y="1443.5" width="79" height="26.5" rx="4"/><text class="b" x="2106.6" y="1456.7">自动化运营</text></g>
<g id="box-cs"><rect class="bx" x="2094.6" y="1538.1" width="90" height="26.5" rx="4"/><text class="b" x="2106.6" y="1551.3">智能客服系统</text></g>
<g id="box-mini"><rect class="bx" x="2094.6" y="1633.1" width="90" height="26.5" rx="4"/><text class="b" x="2106.6" y="1646.3">移动端小程序</text></g>
<g id="box-data"><rect class="bx" x="2094.6" y="1727.8" width="123" height="26.5" rx="4"/><text class="b" x="2106.6" y="1741">数据分析与决策支持</text></g>
<g id="r1"><text class="t" x="2204.9" y="1308.7">基于用户历史消费数据，进行口味、价格、口</text><text class="t" x="2204.9" y="1319.3">味偏好等维度分析</text></g>
<g id="r2"><text class="t" x="2204.9" y="1351">运用人工智能算法，为用户提供个性化酒水推</text><text class="t" x="2204.9" y="1361">荐</text></g>
<g id="r3"><text class="t" x="2204.9" y="1393.7">实时更新推荐算法，提高推荐准确率</text></g>
<g id="r4"><text class="t" x="2194.2" y="1425">自动化库存管理，避免酒水短缺或积压</text></g>
<g id="r5"><text class="t" x="2194.2" y="1456.7">自动化订单处理，提高效率降低错误率</text></g>
<g id="r6"><text class="t" x="2194.2" y="1488.3">自动数据分析，实时了解店铺运营状况</text></g>
<g id="r7"><text class="t" x="2204.9" y="1520">实时回答用户问题，提升用户体验</text></g>
<g id="r8"><text class="t" x="2204.9" y="1551.3">智能识别用户需求，提供个性化服务</text></g>
<g id="r9"><text class="t" x="2204.9" y="1583">用户反馈收集与分析，持续优化店铺服务</text></g>
<g id="r10"><text class="t" x="2204.9" y="1615">实现线上预约服务、在线购买酒水等功能</text></g>
<g id="r11"><text class="t" x="2204.9" y="1646.3">简化购买流程，提升用户体验</text></g>
<g id="r12"><text class="t" x="2204.9" y="1677.7">提供移动端数据分析，实时了解店铺运营状况</text></g>
<g id="r13"><text class="t" x="2237.5" y="1709.7">实时数据分析，为店铺决策提供支持</text></g>
<g id="r14"><text class="t" x="2237.5" y="1741">定期市场分析与预测，为店铺发展提供指导</text></g>
<g id="r15"><text class="t" x="2237.5" y="1772.3">智能决策系统，帮助店铺实现科学管理</text></g>

<g id="yellow-product"><rect class="y" x="1929.5" y="2123.7" width="187.5" height="26" rx="4"/><text class="yt" x="1941.5" y="2136.7">乌有村小酒馆的智能产品解决方案</text></g>
<g id="box-order"><rect class="bx" x="2133.5" y="1933.7" width="90" height="26.5" rx="4"/><text class="b" x="2145.5" y="1946.9">智能点餐系统</text></g>
<g id="box-winemgmt"><rect class="bx" x="2133.5" y="2131.2" width="112" height="26.5" rx="4"/><text class="b" x="2145.5" y="2144.4">智能酒水管理系统</text></g>
<g id="box-env"><rect class="bx" x="2133.5" y="2312.6" width="112" height="26.5" rx="4"/><text class="b" x="2145.5" y="2325.8">智能环境控制系统</text></g>
<g id="p1"><text class="t" x="2243.8" y="1876.1">提供便捷的点餐方式</text></g>
<g id="p2"><text class="t" x="2346.4" y="1844.7">移动端点餐</text></g>
<g id="p3"><text class="t" x="2346.4" y="1876.1">自助下单</text></g>
<g id="p4"><text class="t" x="2346.4" y="1907.9">语音点餐</text></g>
<g id="p5"><text class="t" x="2243.8" y="1955.3">提高结账效率</text></g>
<g id="p6"><text class="t" x="2321" y="1939.3">扫码支付</text></g>
<g id="p7"><text class="t" x="2321" y="1971">刷脸支付</text></g>
<g id="p8"><text class="t" x="2243.8" y="2018.1">提升顾客体验</text></g>
<g id="p9"><text class="t" x="2321" y="2002.4">菜品推荐</text></g>
<g id="p10"><text class="t" x="2321" y="2033.8">实时更新菜品信息</text></g>
<g id="p11"><text class="t" x="2266.1" y="2081.6">管理酒水的库存和销售</text></g>
<g id="p12"><text class="t" x="2376.8" y="2065.5">实时监控酒水库存量</text></g>
<g id="p13"><text class="t" x="2376.8" y="2097.3">销售数据分析</text></g>
<g id="p14"><text class="t" x="2266.1" y="2144.8">提高酒水品质</text></g>
<g id="p15"><text class="t" x="2342.9" y="2128.7">防伪溯源</text></g>
<g id="p16"><text class="t" x="2342.9" y="2160.1">确保酒水新鲜度</text></g>
<g id="p17"><text class="t" x="2266.1" y="2207.9">提升服务效率</text></g>
<g id="p18"><text class="t" x="2342.9" y="2191.8">自动识别酒水订单</text></g>
<g id="p19"><text class="t" x="2342.9" y="2223.6">快速配送酒水</text></g>
<g id="p20"><text class="t" x="2266.1" y="2271">营造舒适的用餐环境</text></g>
<g id="p21"><text class="t" x="2367.9" y="2255.4">温度控制</text></g>
<g id="p22"><text class="t" x="2367.9" y="2286.7">空气质量监测与调节</text></g>
<g id="p23"><text class="t" x="2266.1" y="2334.2">提高顾客满意度</text></g>
<g id="p24"><text class="t" x="2350.9" y="2318.5">提供适宜的用餐环境</text></g>
<g id="p25"><text class="t" x="2350.9" y="2350.3">减少顾客因环境问题而投诉的可能性</text></g>
<g id="p26"><text class="t" x="2266.1" y="2381.4">节能减排</text></g>
<g id="p27"><text class="t" x="2325.4" y="2381.4">自动调节室内光线和音响效果，减少能源浪费</text></g>

<g id="yellow-all"><rect class="y" x="1715.6" y="2897.3" width="176.8" height="26" rx="4"/><text class="yt" x="1727.6" y="2910.3">乌有村小酒馆全店智能解决方案</text></g>
<g id="box-front"><rect class="bx" x="1908" y="2391.4" width="79" height="26.5" rx="4"/><text class="b" x="1920" y="2404.6">前端智能化</text></g>
<g id="box-back"><rect class="bx" x="1908" y="2486.5" width="79" height="26.5" rx="4"/><text class="b" x="1920" y="2499.7">后端智能化</text></g>
<g id="box-logi"><rect class="bx" x="1908" y="2581.2" width="79" height="26.5" rx="4"/><text class="b" x="1920" y="2594.4">物流智能化</text></g>
<g id="box-mkt"><rect class="bx" x="1908" y="3402.5" width="79" height="26.5" rx="4"/><text class="b" x="1920" y="3415.7">营销智能化</text></g>
<g id="q1"><text class="t" x="2008.5" y="2372.5">优化线上预约、点单系统</text></g>
<g id="q2"><text class="t" x="2127.7" y="2372.5">简化预约、点单流程</text></g>
<g id="q3"><text class="t" x="2008.5" y="2404.6">智能推荐酒水</text></g>
<g id="q4"><text class="t" x="2085.3" y="2404.6">根据用户口味、喜好推荐合适的酒水</text></g>
<g id="q5"><text class="t" x="2008.5" y="2436.3">智能推荐优惠活动</text></g>
<g id="q6"><text class="t" x="2102.2" y="2436.3">根据优惠策略自动推荐优惠活动</text></g>
<g id="q7"><text class="t" x="2008.5" y="2468">智能库存管理</text></g>
<g id="q8"><text class="t" x="2085.3" y="2468">实时监控库存、自动提醒缺货情况</text></g>
<g id="q9"><text class="t" x="2008.5" y="2499.7">智能财务系统</text></g>
<g id="q10"><text class="t" x="2085.3" y="2499.7">简化财务管理流程</text></g>
<g id="q11"><text class="t" x="2008.5" y="2531">数据分析与决策支持</text></g>
<g id="q12"><text class="t" x="2111.2" y="2531">提供实时、历史数据分析，支持决策制定</text></g>
<g id="q13"><text class="t" x="2008.5" y="2563.1">智能配送系统</text></g>
<g id="q14"><text class="t" x="2085.3" y="2563.1">自动分配配送任务，提高配送效率</text></g>
<g id="q15"><text class="t" x="2008.5" y="2594.4">无人化仓储</text></g>
<g id="q16"><text class="t" x="2076.3" y="2594.4">自动分拣、包装、发货，降低人力成本</text></g>
<g id="q17"><text class="t" x="2008.5" y="2626">实时物流跟踪</text></g>
<g id="q18"><text class="t" x="2085.3" y="2626">用户可以实时查询物流信息</text></g>
<g id="q19"><text class="t" x="2008.5" y="2852">个性化营销</text></g>
<g id="q20"><text class="t" x="2076.3" y="2852">根据用户行为、喜好进行个性化营销</text></g>
<g id="q21"><text class="t" x="2237.5" y="2689">用户行为分析</text></g>
<g id="q22"><text class="t" x="2314.3" y="2657.3">记录用户浏览、点击、购买等行为</text></g>
<g id="q23"><text class="t" x="2314.3" y="2689">分析用户对哪些产品或服务感兴趣</text></g>
<g id="q24"><text class="t" x="2314.3" y="2720.7">识别出用户的消费习惯和喜好</text></g>
<g id="q25"><text class="t" x="2237.5" y="2792.1">制定个性化营销策略</text></g>
<g id="q26"><text class="t" x="2340.2" y="2752.4">根据用户行为和喜好，制定针对性的营销活动</text></g>
<g id="q27"><text class="t" x="2340.2" y="2784.1">推送用户感兴趣的内容，如优惠信息、新品推</text><text class="t" x="2340.2" y="2794.4">荐等</text></g>
<g id="q28"><text class="t" x="2340.2" y="2826.5">制定个性化客服策略，满足不同用户的需求和</text><text class="t" x="2340.2" y="2837.2">期望</text></g>
<g id="q29"><text class="t" x="2237.5" y="2903.8">跟踪和评估效果</text></g>
<g id="q30"><text class="t" x="2323.2" y="2868.9">跟踪营销活动的效果，如转化率、购买量等</text></g>
<g id="q31"><text class="t" x="2323.2" y="2900.6">根据效果调整策略，优化用户体验和营销效果</text></g>
<g id="q32"><text class="t" x="2323.2" y="2931.9">评估个性化营销的有效性，不断改进和优化方</text><text class="t" x="2323.2" y="2942.6">案</text></g>
<g id="q33"><text class="t" x="2237.5" y="3014.9">个性化营销的技术支持</text></g>
<g id="q34"><text class="t" x="2348.7" y="2975.2">大数据技术的应用，收集和分析海量用户数据</text></g>
<g id="q35"><text class="t" x="2348.7" y="3006.4">人工智能和机器学习的发展，帮助识别用户行</text><text class="t" x="2348.7" y="3017.1">为和喜好</text></g>
<g id="q36"><text class="t" x="2348.7" y="3048.8">实时更新和优化个性化营销策略，提高营销效</text><text class="t" x="2348.7" y="3059.1">果和用户体验</text></g>
<g id="q37"><text class="t" x="2008.5" y="3393.3">智能广告投放</text></g>
<g id="q38"><text class="t" x="2085.3" y="3393.3">根据用户属性和兴趣进行广告投放</text></g>
<g id="q39"><text class="t" x="2237.5" y="3107.2">广告投放目标</text></g>
<g id="q40"><text class="t" x="2314.3" y="3091.5">针对不同用户群体，投放不同广告</text></g>
<g id="q41"><text class="t" x="2314.3" y="3123">提高广告点击率和转化率</text></g>
<g id="q42"><text class="t" x="2237.5" y="3280.9">用户属性分类</text></g>
<g id="q43"><text class="t" x="2314.3" y="3186">1.年龄段</text></g>
<g id="q44"><text class="t" x="2372.3" y="3154.9">儿童用品广告</text></g>
<g id="q45"><text class="t" x="2372.3" y="3186">青少年用品广告</text></g>
<g id="q46"><text class="t" x="2372.3" y="3217.9">中老年保健品广告</text></g>
<g id="q47"><text class="t" x="2314.3" y="3280.9">2.兴趣爱好</text></g>
<g id="q48"><text class="t" x="2380.4" y="3249.4">运动类广告</text></g>
<g id="q49"><text class="t" x="2380.4" y="3280.9">娱乐游戏类广告</text></g>
<g id="q50"><text class="t" x="2380.4" y="3312.4">旅游购物类广告</text></g>
<g id="q51"><text class="t" x="2314.3" y="3375.9">3.职业类型</text></g>
<g id="q52"><text class="t" x="2380.4" y="3344.4">企业广告</text></g>
<g id="q53"><text class="t" x="2380.4" y="3375.9">个人用品广告</text></g>
<g id="q54"><text class="t" x="2380.4" y="3407.4">金融服务广告</text></g>
<g id="q55"><text class="t" x="2237.5" y="3470.8">数据收集和分析</text></g>
<g id="q56"><text class="t" x="2323.2" y="3438.9">收集用户浏览记录、购买记录等信息</text></g>
<g id="q57"><text class="t" x="2323.2" y="3470.8">分析用户属性和兴趣，建立用户画像</text></g>
<g id="q58"><text class="t" x="2323.2" y="3502.3">根据用户画像，制定广告投放策略</text></g>
<g id="q59"><text class="t" x="2237.5" y="3581.1">广告投放平台和渠道</text></g>
<g id="q60"><text class="t" x="2340.2" y="3533.8">社交媒体平台</text></g>
<g id="q61"><text class="t" x="2340.2" y="3565.7">搜索引擎广告</text></g>
<g id="q62"><text class="t" x="2340.2" y="3597.3">广告联盟平台</text></g>
<g id="q63"><text class="t" x="2340.2" y="3628.8">自有网站和APP等渠道</text></g>
<g id="q64"><text class="t" x="2237.5" y="3678.9">效果评估和优化</text></g>
<g id="q65"><text class="t" x="2323.2" y="3660.3">通过数据分析和反馈，评估广告效果</text></g>
<g id="q66"><text class="t" x="2323.2" y="3691.4">根据效果反馈，调整广告投放策略和内容，优</text><text class="t" x="2323.2" y="3703">化广告投放效果</text></g>
<g id="q67"><text class="t" x="2008.5" y="3979.8">数据驱动的决策</text></g>
<g id="q68"><text class="t" x="2094.2" y="3979.8">基于数据分析的营销策略制定和调整</text></g>
<g id="q69"><text class="t" x="2254.9" y="3750.5">背景</text></g>
<g id="q70"><text class="t" x="2297.8" y="3734.7">市场竞争激烈，传统营销策略效果不佳</text></g>
<g id="q71"><text class="t" x="2297.8" y="3766.3">营销数据难以处理，无法洞察消费者行为</text></g>
<g id="q72"><text class="t" x="2254.9" y="3853.7">数据分析方法</text></g>
<g id="q73"><text class="t" x="2331.3" y="3797.6">数据收集：多渠道收集数据，包括交易数据、</text><text class="t" x="2331.3" y="3808.6">客户反馈等</text></g>
<g id="q74"><text class="t" x="2331.3" y="3840.3">数据清洗：去重、异常值处理等</text></g>
<g id="q75"><text class="t" x="2331.3" y="3871.9">数据挖掘：使用统计分析工具，如SPSS等</text></g>
<g id="q76"><text class="t" x="2331.3" y="3903.5">数据可视化：通过图表展示数据，便于分析</text></g>
<g id="q77"><text class="t" x="2254.9" y="3975.1">营销策略制定</text></g>
<g id="q78"><text class="t" x="2331.3" y="3935.2">根据不同客户群体，制定不同的营销策略</text></g>
<g id="q79"><text class="t" x="2331.3" y="3967.2">制定不同的优惠方案，满足不同消费能力的客</text><text class="t" x="2331.3" y="3978.3">户</text></g>
<g id="q80"><text class="t" x="2331.3" y="4009.5">根据不同时间节点，调整营销策略，提高转化</text><text class="t" x="2331.3" y="4020.6">率</text></g>
<g id="q81"><text class="t" x="2254.9" y="4083.8">执行与监控</text></g>
<g id="q82"><text class="t" x="2323.2" y="4052.2">执行营销活动，收集数据，分析效果</text></g>
<g id="q83"><text class="t" x="2323.2" y="4083.8">根据效果调整营销策略，优化资源配置</text></g>
<g id="q84"><text class="t" x="2323.2" y="4115.5">定期评估营销策略的有效性，总结经验教训</text></g>
<g id="q85"><text class="t" x="2254.9" y="4208">总结</text></g>
<g id="q86"><text class="t" x="2297.8" y="4147.5">基于数据分析的营销策略制定和调整可以提高</text><text class="t" x="2297.8" y="4158.6">营销效果</text></g>
<g id="q87"><text class="t" x="2297.8" y="4190.2">需要多渠道收集数据，并进行数据清洗和挖掘</text></g>
<g id="q88"><text class="t" x="2297.8" y="4221.8">需要制定灵活的营销策略，并根据效果调整优</text><text class="t" x="2297.8" y="4232.9">化</text></g>
<g id="q89"><text class="t" x="2297.8" y="4264.1">定期总结评估营销策略，以持续提高业绩</text></g>

<g id="watermark" class="w">
<text transform="translate(645 560) rotate(-28)" text-anchor="middle">树图 shutu.cn</text>
<text transform="translate(1923 560) rotate(-28)" text-anchor="middle">树图 shutu.cn</text>
<text transform="translate(645 1535) rotate(-28)" text-anchor="middle">树图 shutu.cn</text>
<text transform="translate(1923 1535) rotate(-28)" text-anchor="middle">树图 shutu.cn</text>
<text transform="translate(645 2524) rotate(-28)" text-anchor="middle">树图 shutu.cn</text>
<text transform="translate(1923 2524) rotate(-28)" text-anchor="middle">树图 shutu.cn</text>
<text transform="translate(645 3513) rotate(-28)" text-anchor="middle">树图 shutu.cn</text>
<text transform="translate(1923 3513) rotate(-28)" text-anchor="middle">树图 shutu.cn</text>
</g>
</g>
</svg>
